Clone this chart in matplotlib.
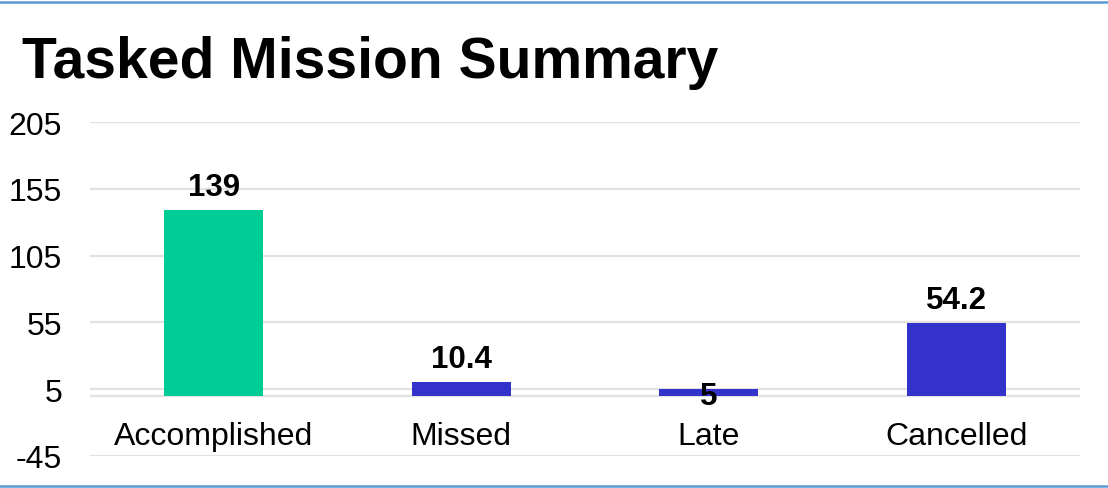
import matplotlib
matplotlib.use("Agg")
import matplotlib.pyplot as plt
from matplotlib.lines import Line2D

categories = ["Accomplished", "Missed", "Late", "Cancelled"]
values = [139, 10.4, 5, 54.2]
value_labels = ["139", "10.4", "5", "54.2"]
colors = ["#00CC96", "#3333CC", "#3333CC", "#3333CC"]
yticks = [-45, 5, 55, 105, 155, 205]
title = "Tasked Mission Summary"

plt.rcParams['font.family'] = ['Liberation Sans', 'DejaVu Sans']

W, H = 1108, 489
fig = plt.figure(figsize=(W / 100, H / 100), dpi=100)
ax = fig.add_axes([90 / W, 1 - 456.7 / H, (1080 - 90) / W, (456.7 - 123.3) / H])

x = list(range(len(categories)))
ax.bar(x, values, width=0.4, color=colors, zorder=3)
ax.set_xlim(-0.5, len(categories) - 0.5)
ax.set_ylim(-45, 205)
ax.set_yticks(yticks)
ax.set_yticklabels([str(t) for t in yticks], fontsize=23)
ax.tick_params(axis='y', length=0, pad=20)
ax.set_xticks([])
ax.grid(axis='y', color='#e2e2e2', linewidth=1.6, zorder=0)
ax.axhline(0, color='#e2e2e2', linewidth=1.6, zorder=1)
for s in ax.spines.values():
    s.set_visible(False)

for xi, cat in zip(x, categories):
    ax.annotate(cat, (xi, 0), xytext=(0, -34.8), textcoords='offset points',
                ha='center', va='baseline', fontsize=23)

for xi, v, lab in zip(x, values, value_labels):
    if v < 8:
        ax.annotate(lab, (xi, 0), xytext=(0, -6), textcoords='offset points',
                    ha='center', va='baseline', fontsize=22.5, fontweight='bold', zorder=5)
    else:
        ax.annotate(lab, (xi, v), xytext=(0, 11), textcoords='offset points',
                    ha='center', va='baseline', fontsize=22.5, fontweight='bold', zorder=5)

fig.text(22 / W, 1 - 78 / H, title, fontsize=41, fontweight='bold', ha='left', va='baseline')

fig.add_artist(Line2D([0, 1], [1 - 3 / H, 1 - 3 / H], color='#5b9bd5', linewidth=1.8,
                      transform=fig.transFigure))
fig.add_artist(Line2D([0, 1], [1 - 487 / H, 1 - 487 / H], color='#5b9bd5', linewidth=1.8,
                      transform=fig.transFigure))

fig.savefig("out.png", dpi=100, facecolor='white')
